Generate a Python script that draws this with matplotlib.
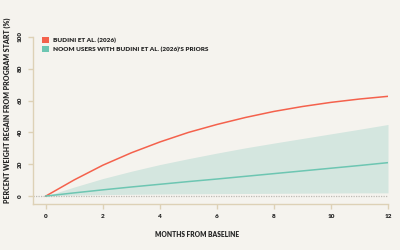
import matplotlib
matplotlib.use("Agg")
import matplotlib.pyplot as plt
from matplotlib.patches import Patch


months = [0, 1, 2, 3, 4, 5, 6, 7, 8, 9, 10, 11, 12]
budini = [0, 10.2, 19.4, 27.2, 34.0, 40.0, 45.0, 49.4, 53.2, 56.3, 58.9, 61.0, 62.7]
noom = [0, 2.0, 3.9, 5.7, 7.4, 9.1, 10.7, 12.4, 14.1, 15.8, 17.5, 19.2, 21.0]
noom_low = [0, 0.6, 0.9, 1.1, 1.3, 1.4, 1.5, 1.6, 1.7, 1.8, 1.9, 2.0, 2.0]
noom_high = [0, 5.7, 11.0, 15.6, 19.8, 23.5, 27.0, 30.3, 33.3, 36.2, 39.1, 42.0, 45.0]

x_ticks = [0, 2, 4, 6, 8, 10, 12]
y_ticks = [0, 20, 40, 60, 80, 100]

bg = "#f5f3ee"
red = "#f4614c"
teal = "#6dc6b2"
band = "#d4e6df"
spine_col = "#ddd1b6"
text_col = "#262626"
weight = "heavy"

plt.rcParams["font.family"] = ["Lato", "DejaVu Sans"]

fig = plt.figure(figsize=(4, 2.5), dpi=100, facecolor=bg)
ax = fig.add_axes([0.0825, 0.184, 0.8875, 0.668])
ax.set_facecolor(bg)

ax.fill_between(months, noom_low, noom_high, color=band, linewidth=0)
ax.axhline(0, color="#bdbab4", linestyle=(0, (1, 1)), linewidth=0.9, zorder=1)
ax.plot(months, budini, color=red, linewidth=1.1, zorder=3)
ax.plot(months, noom, color=teal, linewidth=1.1, zorder=3)

ax.set_xlim(-0.45, 12)
ax.set_ylim(-5, 100)

for s in ["top", "right"]:
	ax.spines[s].set_visible(False)
for s in ["left", "bottom"]:
	ax.spines[s].set_color(spine_col)
	ax.spines[s].set_linewidth(1.0)

ax.set_xticks(x_ticks)
ax.set_yticks(y_ticks)
ax.set_xticklabels([str(v) for v in x_ticks], fontsize=4.6, fontweight=weight, color=text_col)
ax.set_yticklabels([str(v) for v in y_ticks], fontsize=4.6, fontweight=weight, color=text_col,
	rotation=90, va="center")
ax.tick_params(axis="both", color=spine_col, length=3.6, width=1.0, pad=3.5)

ax.set_xlabel("MONTHS FROM BASELINE", fontsize=4.8, fontweight=weight, color=text_col,
	labelpad=9, x=0.462)
ax.set_ylabel("PERCENT WEIGHT REGAIN FROM PROGRAM START (%)", fontsize=5.0, fontweight=weight,
	color=text_col, labelpad=5, y=0.56)

handles = [
	Patch(facecolor=red, edgecolor="none"),
	Patch(facecolor=teal, edgecolor="none"),
]
labels = ["BUDINI ET AL. (2026)", "NOOM USERS WITH BUDINI ET AL. (2026)'S PRIORS"]
leg = ax.legend(handles, labels, loc="upper left", bbox_to_anchor=(0.01, 1.035), frameon=False,
	handlelength=1.05, handleheight=1.05, handletextpad=0.55, labelspacing=0.4,
	prop={"family": ["Lato", "DejaVu Sans"], "weight": weight, "size": 4.6})
for t in leg.get_texts():
	t.set_color(text_col)

fig.savefig("out.png", dpi=100, facecolor=bg)
